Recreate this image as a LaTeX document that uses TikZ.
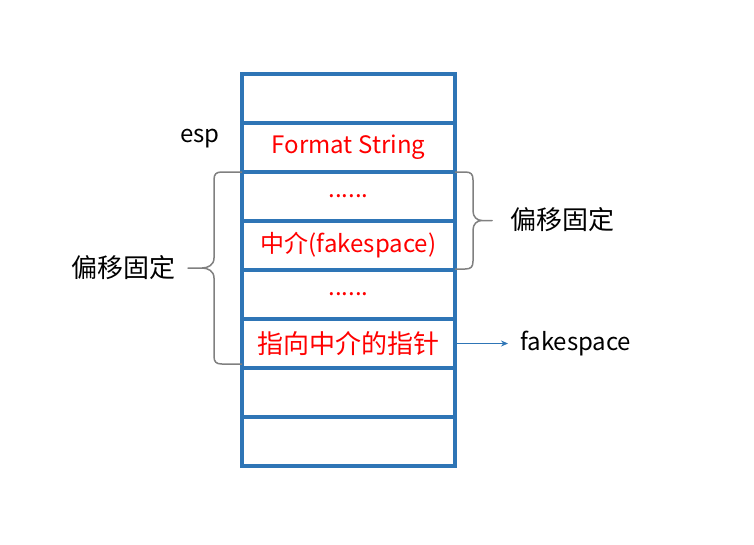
\documentclass[tikz,border=0pt]{standalone}
\usepackage{fontspec}
\setmainfont{Noto Sans CJK SC}
\usepackage{tikz}
\usetikzlibrary{arrows.meta, positioning}
\definecolor{stackblue}{RGB}{46,117,182}
\definecolor{bracegray}{RGB}{128,128,128}

\begin{document}
\begin{tikzpicture}[
  x=1pt, y=-1pt,
  cell/.style={rectangle, draw=stackblue, line width=3.5pt, minimum width=213pt, minimum height=49pt, outer sep=0pt, inner sep=0pt, text=red, font=\fontsize{24}{27}\selectfont},
  lbl/.style={font=\fontsize{24}{27}\selectfont, inner sep=0pt},
  cjk/.style={font=\fontsize{26}{29}\selectfont},
  brc/.style={draw=bracegray, line width=1.5pt, line join=round},
  ptr/.style={-{Stealth[length=7pt, width=6pt]}, draw=stackblue, line width=0.8pt},
]
  \useasboundingbox (0,0) rectangle (754,544);
  \node[cell] (c1) at (348.5,98.5) {};
  \node[cell, below=0pt of c1] (c2) {Format String};
  \node[cell, below=0pt of c2] (c3) {......};
  \node[cell, below=0pt of c3] (c4) {中介(fakespace)};
  \node[cell, below=0pt of c4] (c5) {......};
  \node[cell, cjk, below=0pt of c5] (c6) {指向中介的指针};
  \node[cell, below=0pt of c6] (c7) {};
  \node[cell, below=0pt of c7] (c8) {};

  \node[lbl] (esp) at (200,139) {esp};

  % left brace, rows 3-6
  \draw[brc] (c3.north west) -- ++(-20,0) .. controls +(-6,0) and +(0,-6) .. ++(-8,8)
    -- ++(0,78) .. controls +(0,7) and +(6,0) .. ++(-12,10) -- ++(-14,0) -- ++(14,0)
    .. controls +(6,0) and +(0,-7) .. ++(12,10) -- ++(0,78)
    .. controls +(0,6) and +(-6,0) .. ++(8,8) -- ++(20,0);
  \node[lbl, cjk, anchor=east] (lofs) at (176,268) {偏移固定};

  % right brace, rows 3-4
  \draw[brc] (c3.north east) -- ++(10,0) .. controls +(6,0) and +(0,-6) .. ++(8,8)
    -- ++(0,31) .. controls +(0,6) and +(-5,0) .. ++(9,9.5) -- ++(10,0) -- ++(-10,0)
    .. controls +(-5,0) and +(0,-6) .. ++(-9,9.5) -- ++(0,31)
    .. controls +(0,6) and +(6,0) .. ++(-8,8) -- ++(-10,0);
  \node[lbl, cjk, anchor=west] (rofs) at (510,220) {偏移固定};

  \node[lbl, right=65pt of c6] (fs) {fakespace};
  \draw[ptr] (c6.east) -- ([xshift=-12pt]fs.west);
\end{tikzpicture}
\end{document}
